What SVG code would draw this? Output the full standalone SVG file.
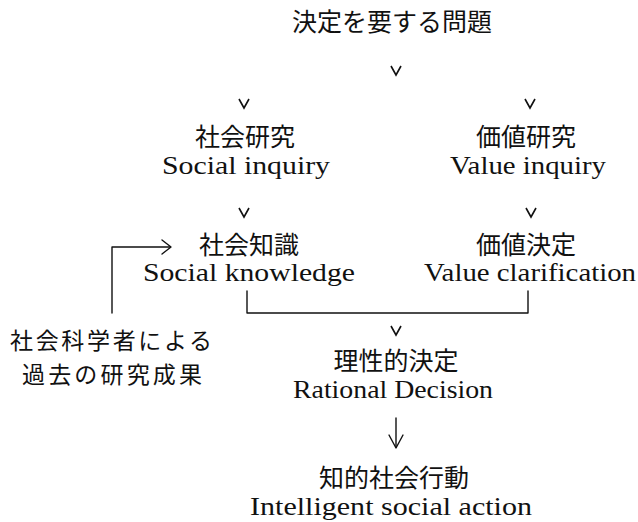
<svg xmlns="http://www.w3.org/2000/svg" width="638" height="522" viewBox="0 0 638 522">
  <style>
    .jp { font-family: "Noto Sans CJK JP", "Noto Sans", sans-serif; font-size: 25px; fill: #111; text-anchor: middle; }
    .jp-sm { font-family: "Noto Sans CJK JP", "Noto Sans", sans-serif; font-size: 23px; fill: #111; text-anchor: middle; }
    .en { font-family: "Liberation Serif", "Times New Roman", serif; font-size: 26px; fill: #111; text-anchor: middle; }
    .ln { fill: none; stroke: #111; stroke-width: 1.4; stroke-linecap: round; stroke-linejoin: round; }
    .vh { fill: none; stroke: #111; stroke-width: 1.6; stroke-linejoin: miter; }
  </style>
  <rect width="638" height="522" fill="#fff"/>

  <!-- connectors: v-shaped arrowheads, feedback arrow, joining bracket -->
  <g id="connectors">
    <path class="vh" d="M391,66 L396,75 L401,66"/>
    <path class="vh" d="M239,99 L244,108 L249,99"/>
    <path class="vh" d="M525,99 L530,108 L535,99"/>
    <path class="vh" d="M239,208 L244,217 L249,208"/>
    <path class="vh" d="M526,208 L531,217 L536,208"/>
    <path class="vh" d="M391,326 L396,335 L401,326"/>
    <path class="ln" d="M112,313 V247 H170"/>
    <path class="ln" d="M162,240 L171,247 L162,254"/>
    <path class="ln" d="M247,291 V313 H528 V291"/>
    <path class="ln" d="M396,418 V447"/>
    <path class="ln" d="M389,435 L396,448 L403,435"/>
  </g>

  <g id="problem">
    <text class="jp" x="392" y="31">決定を要する問題</text>
  </g>

  <g id="social-inquiry">
    <text class="jp" x="245" y="146">社会研究</text>
    <text class="en" x="246" y="174" textLength="168" lengthAdjust="spacingAndGlyphs">Social inquiry</text>
  </g>

  <g id="value-inquiry">
    <text class="jp" x="526" y="146">価値研究</text>
    <text class="en" x="528" y="174" textLength="156" lengthAdjust="spacingAndGlyphs">Value inquiry</text>
  </g>

  <g id="social-knowledge">
    <text class="jp" x="249" y="254">社会知識</text>
    <text class="en" x="249" y="281" textLength="212" lengthAdjust="spacingAndGlyphs">Social knowledge</text>
  </g>

  <g id="value-clarification">
    <text class="jp" x="526" y="254">価値決定</text>
    <text class="en" x="530" y="281" textLength="212" lengthAdjust="spacingAndGlyphs">Value clarification</text>
  </g>

  <g id="past-research">
    <text class="jp-sm" x="111" y="349" textLength="202" lengthAdjust="spacing">社会科学者による</text>
    <text class="jp-sm" x="112" y="383" textLength="180" lengthAdjust="spacing">過去の研究成果</text>
  </g>

  <g id="rational-decision">
    <text class="jp" x="396" y="370">理性的決定</text>
    <text class="en" x="393" y="398" textLength="200" lengthAdjust="spacingAndGlyphs">Rational Decision</text>
  </g>

  <g id="social-action">
    <text class="jp" x="394" y="487">知的社会行動</text>
    <text class="en" x="391" y="515" textLength="282" lengthAdjust="spacingAndGlyphs">Intelligent social action</text>
  </g>
</svg>
